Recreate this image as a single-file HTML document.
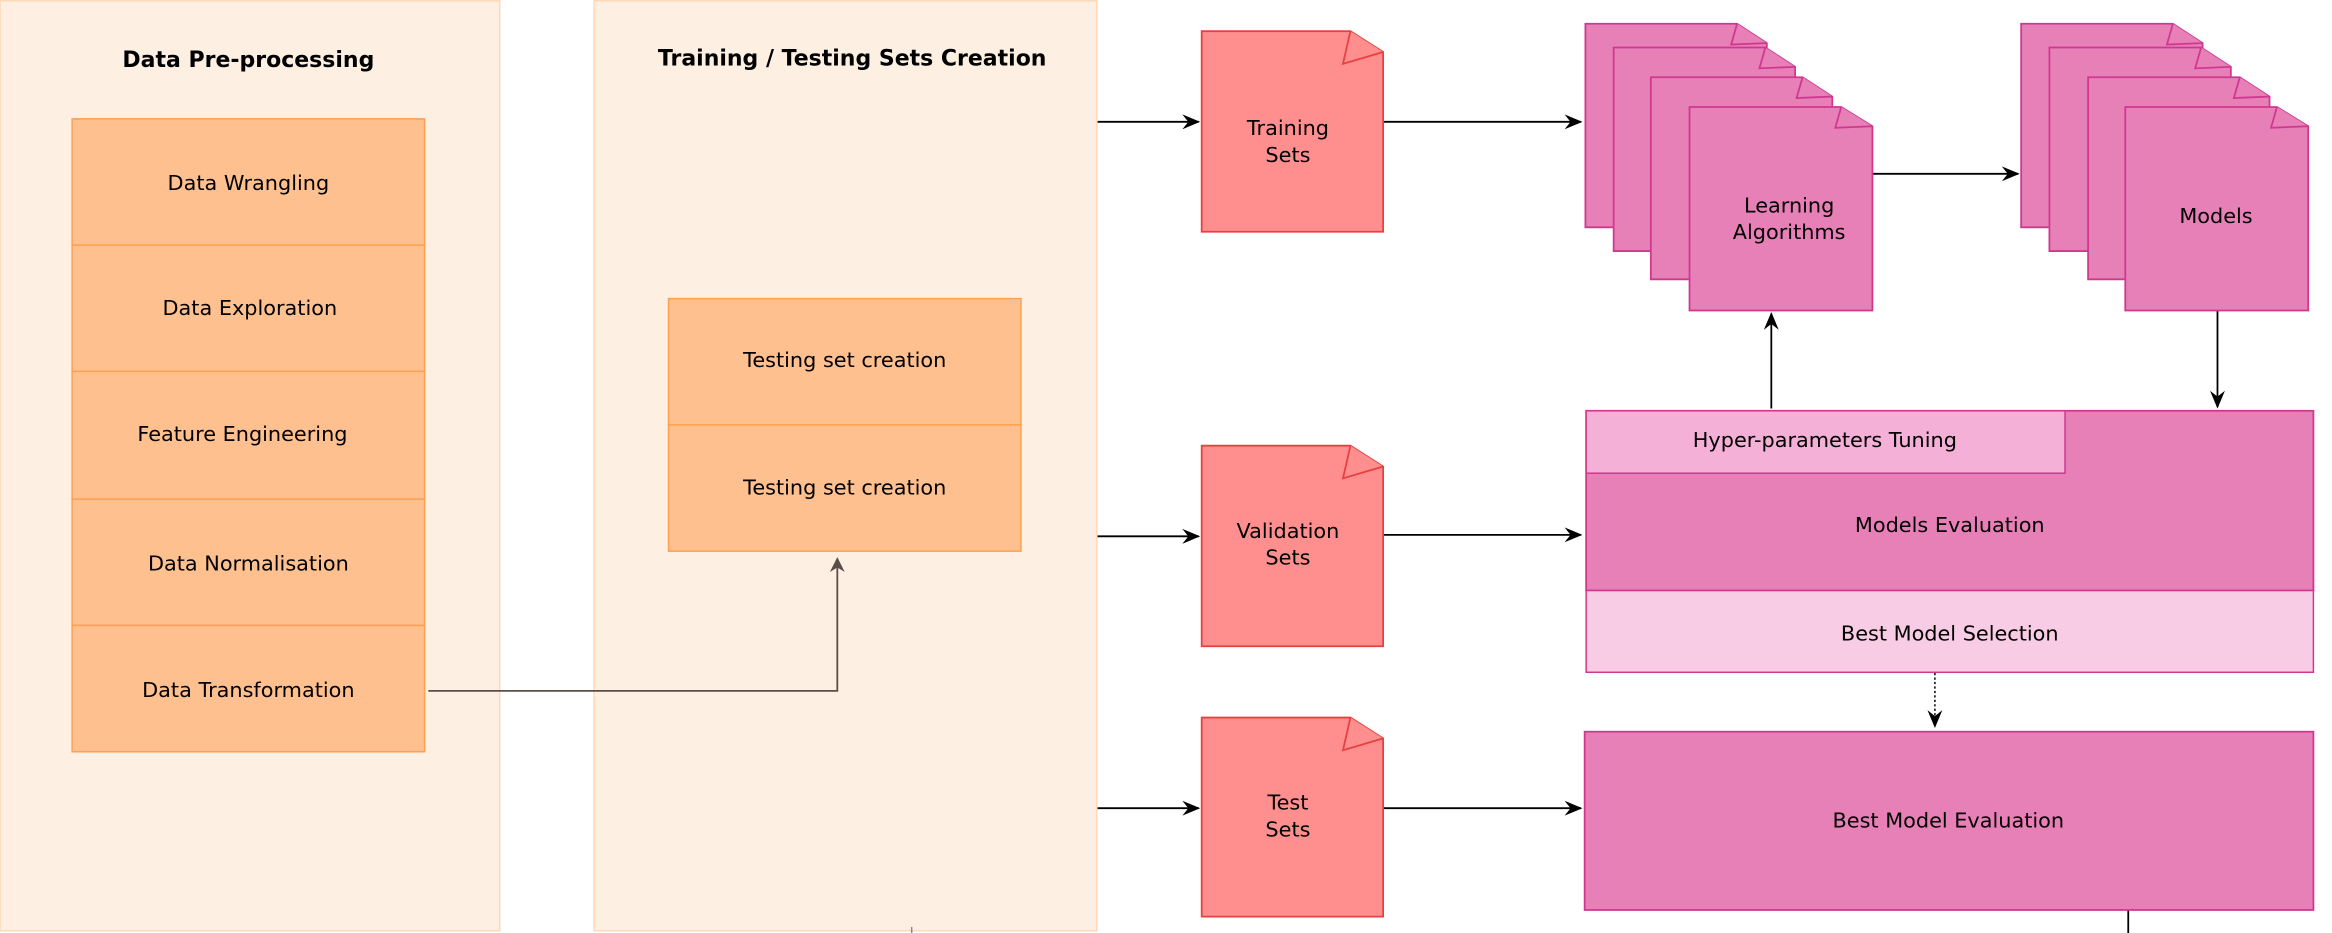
<!DOCTYPE html>
<html><head><meta charset="utf-8"><style>
html,body{margin:0;padding:0;background:#fff;}
svg{display:block;}
text{font-family:"DejaVu Sans","Liberation Sans",sans-serif;font-size:14px;fill:#000;}
</style></head><body>
<svg width="2332" height="933" viewBox="0 0 1568 628" preserveAspectRatio="none" xmlns="http://www.w3.org/2000/svg">
<defs>
<marker id="a" markerWidth="12" markerHeight="10" refX="11" refY="5" orient="auto" markerUnits="userSpaceOnUse">
<path d="M0,0 L12,5 L0,10 L4,5 Z" fill="#000"/></marker>
<marker id="g" markerWidth="10" markerHeight="12" refX="9" refY="6" orient="auto" markerUnits="userSpaceOnUse">
<path d="M0,1 L10,6 L0,11 L3,6 Z" fill="#5a4f48"/></marker>
</defs>
<rect x="0" y="0.5" width="336" height="626" fill="#fdefe2" stroke="#ffd8b8"/>
<rect x="399.5" y="0.5" width="338" height="626" fill="#fdefe2" stroke="#ffd8b8"/>
<text x="167" y="45" text-anchor="middle" font-weight="bold" style="font-size:14.8px">Data Pre-processing</text>
<text x="573" y="44" text-anchor="middle" font-weight="bold" style="font-size:14.8px">Training / Testing Sets Creation</text>
<g fill="#ffc08f" stroke="#ffa050">
<rect x="48.5" y="80" width="237" height="85"/>
<rect x="48.5" y="165" width="237" height="85"/>
<rect x="48.5" y="250" width="237" height="86"/>
<rect x="48.5" y="336" width="237" height="85"/>
<rect x="48.5" y="421" width="237" height="85"/>
<rect x="449.5" y="201" width="237" height="85"/>
<rect x="449.5" y="286" width="237" height="85"/>
</g>
<text x="167" y="128" text-anchor="middle">Data Wrangling</text>
<text x="168" y="212" text-anchor="middle">Data Exploration</text>
<text x="163" y="297" text-anchor="middle">Feature Engineering</text>
<text x="167" y="384" text-anchor="middle">Data Normalisation</text>
<text x="167" y="469" text-anchor="middle">Data Transformation</text>
<text x="568" y="247" text-anchor="middle">Testing set creation</text>
<text x="568" y="333" text-anchor="middle">Testing set creation</text>
<path d="M288,465 L563,465 L563,376" fill="none" stroke="#5a4f48" stroke-width="1.2" marker-end="url(#g)"/>
<line x1="613" y1="624" x2="613" y2="628" stroke="#888"/>
<g stroke="#000" stroke-width="1.2" fill="none" marker-end="url(#a)">
<line x1="738" y1="82" x2="806" y2="82"/>
<line x1="738" y1="361" x2="806" y2="361"/>
<line x1="738" y1="544" x2="806" y2="544"/>
<line x1="930" y1="82" x2="1063" y2="82"/>
<line x1="930" y1="360" x2="1063" y2="360"/>
<line x1="930" y1="544" x2="1063" y2="544"/>
<line x1="1259" y1="117" x2="1357" y2="117"/>
<line x1="1191" y1="275" x2="1191" y2="211"/>
<line x1="1491" y1="209" x2="1491" y2="274"/>
</g>
<line x1="1301" y1="453" x2="1301" y2="489" stroke="#000" stroke-dasharray="1.5,1.5"/>
<path d="M1296,478 L1301,490 L1306,478 L1301,482 Z" fill="#000"/>
<line x1="1431" y1="612" x2="1431" y2="628" stroke="#000" stroke-width="1.2"/>
<g fill="#ff8f8f" stroke="#e84040" stroke-width="1.2">
<path d="M808,21 H908 L930,35 V156 H808 Z"/><path d="M908,21 L903,43 L930,35" fill="#ff8f8f"/>
<path d="M808,300 H908 L930,314 V435 H808 Z"/><path d="M908,300 L903,322 L930,314"/>
<path d="M808,483 H908 L930,497 V617 H808 Z"/><path d="M908,483 L903,505 L930,497"/>
</g>
<text x="866" y="91" text-anchor="middle">Training</text><text x="866" y="109" text-anchor="middle">Sets</text>
<text x="866" y="362" text-anchor="middle">Validation</text><text x="866" y="380" text-anchor="middle">Sets</text>
<text x="866" y="545" text-anchor="middle">Test</text><text x="866" y="563" text-anchor="middle">Sets</text>
<g fill="#e880b8" stroke="#d03890" stroke-width="1.2">
<path d="M1066,16 H1168 L1188,29 V153 H1066 Z"/><path d="M1168,16 L1164,30 L1188,29"/>
<path d="M1085,32 H1187 L1207,45 V169 H1085 Z"/><path d="M1187,32 L1183,46 L1207,45"/>
<path d="M1110,52 H1212 L1232,65 V188 H1110 Z"/><path d="M1212,52 L1208,66 L1232,65"/>
<path d="M1136,72 H1238 L1259,85 V209 H1136 Z"/><path d="M1238,72 L1234,86 L1259,85"/>
<path d="M1359,16 H1461 L1481,29 V153 H1359 Z"/><path d="M1461,16 L1457,30 L1481,29"/>
<path d="M1378,32 H1480 L1500,45 V169 H1378 Z"/><path d="M1480,32 L1476,46 L1500,45"/>
<path d="M1404,52 H1506 L1526,65 V188 H1404 Z"/><path d="M1506,52 L1502,66 L1526,65"/>
<path d="M1429,72 H1531 L1552,85 V209 H1429 Z"/><path d="M1531,72 L1527,86 L1552,85"/>
<rect x="1066.5" y="276.5" width="489" height="121"/>
<rect x="1065.5" y="492.5" width="490" height="120"/>
</g>
<rect x="1066.5" y="276.5" width="322" height="42" fill="#f4b0d6" stroke="#d03890"/>
<rect x="1066.5" y="397.5" width="489" height="55" fill="#f7cce4" stroke="#d03890"/>
<text x="1203" y="143" text-anchor="middle">Learning</text><text x="1203" y="161" text-anchor="middle">Algorithms</text>
<text x="1490" y="150" text-anchor="middle">Models</text>
<text x="1227" y="301" text-anchor="middle">Hyper-parameters Tuning</text>
<text x="1311" y="358" text-anchor="middle">Models Evaluation</text>
<text x="1311" y="431" text-anchor="middle">Best Model Selection</text>
<text x="1310" y="557" text-anchor="middle">Best Model Evaluation</text>
</svg>
</body></html>
